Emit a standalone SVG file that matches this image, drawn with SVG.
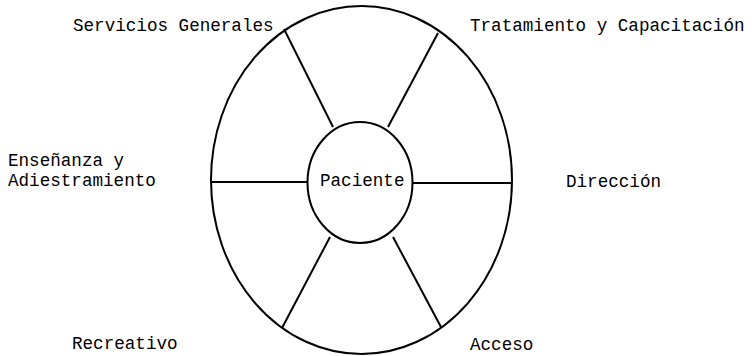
<svg xmlns="http://www.w3.org/2000/svg" width="754" height="356" viewBox="0 0 754 356">
<style>
.s{fill:none;stroke:#000;stroke-width:2}
.t{font-family:"Liberation Mono","DejaVu Sans Mono",monospace;font-size:17.6px;fill:#000}
</style>
<rect width="754" height="356" fill="#fff"/>
<g id="connectors">
<line class="s" x1="211" y1="182" x2="308" y2="182"/>
<line class="s" x1="413" y1="183" x2="512" y2="183"/>
<line class="s" x1="284" y1="29" x2="333" y2="127"/>
<line class="s" x1="438" y1="33" x2="388" y2="127"/>
<line class="s" x1="282" y1="328" x2="330" y2="237"/>
<line class="s" x1="441" y1="327" x2="393" y2="237"/>
</g>
<g id="outer"><ellipse class="s" cx="361.5" cy="180" rx="150.5" ry="174"/></g>
<g id="paciente"><ellipse class="s" cx="360" cy="182.5" rx="52.5" ry="60.5"/><text class="t" x="320" y="186">Paciente</text></g>
<g id="servicios"><text class="t" x="73" y="31">Servicios Generales</text></g>
<g id="tratamiento"><text class="t" x="470" y="31">Tratamiento y Capacitación</text></g>
<g id="ensenanza"><text class="t" x="8" y="166">Enseñanza y</text><text class="t" x="8" y="186">Adiestramiento</text></g>
<g id="direccion"><text class="t" x="566" y="187">Dirección</text></g>
<g id="recreativo"><text class="t" x="72" y="349">Recreativo</text></g>
<g id="acceso"><text class="t" x="470" y="350">Acceso</text></g>
</svg>
